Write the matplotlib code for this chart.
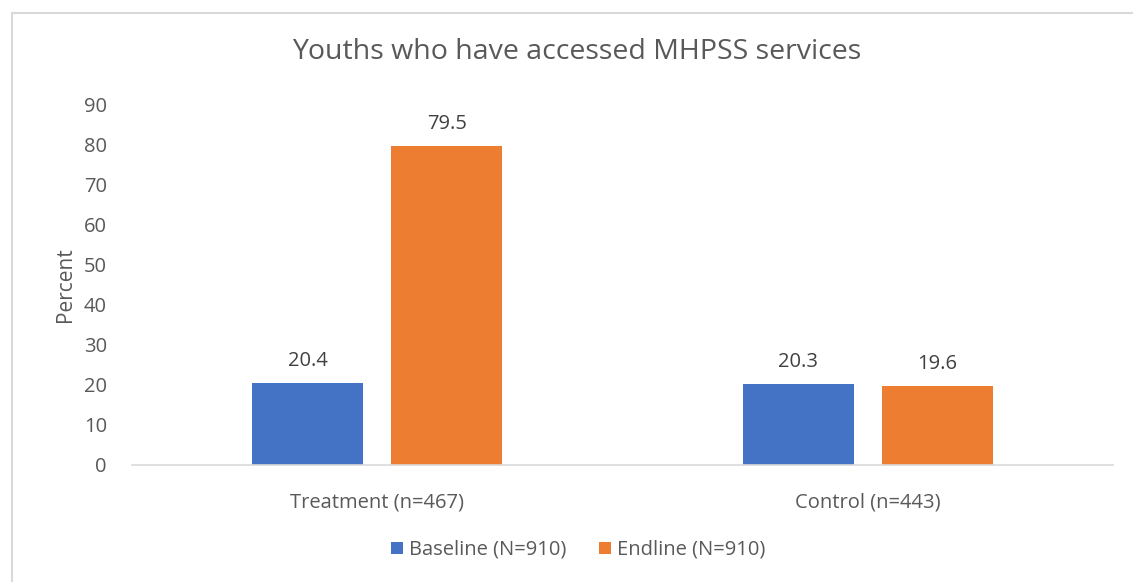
import numpy as np
import matplotlib.pyplot as plt
from matplotlib.patches import Rectangle

categories = ["Treatment (n=467)", "Control (n=443)"]
baseline = [20.4, 20.3]
endline = [79.5, 19.6]
series_names = ["Baseline (N=910)", "Endline (N=910)"]
y_ticks = [0, 10, 20, 30, 40, 50, 60, 70, 80, 90]

blue = "#4472C4"
orange = "#ED7D31"
gray = "#595959"

plt.rcParams['font.family'] = ['Open Sans', 'DejaVu Sans']

fig = plt.figure(figsize=(11.33, 5.82), dpi=100)
fig.patch.set_facecolor("white")

# chart frame
fig.patches.append(Rectangle((12 / 1133, -0.05), 1.1, 1 - 13 / 582 + 0.05,
                             transform=fig.transFigure, fill=False,
                             edgecolor="#d9d9d9", linewidth=1.5))

ax = fig.add_axes([132 / 1133, 1 - 465 / 582, (1113 - 132) / 1133, (465 - 104) / 582])

x = np.arange(len(categories))
off = 0.1417
w = 0.226
b1 = ax.bar(x - off, baseline, w, color=blue, label=series_names[0])
b2 = ax.bar(x + off, endline, w, color=orange, label=series_names[1])

for bars, vals in ((b1, baseline), (b2, endline)):
    for r, v in zip(bars, vals):
        ax.text(r.get_x() + r.get_width() / 2, v + 3.0, f"{v:.1f}",
                ha="center", va="bottom", fontsize=14.5, color="#404040")

ax.set_xlim(-0.5, 1.5)
ax.set_ylim(0, 90)
ax.set_yticks(y_ticks)
ax.set_xticks(x)
ax.set_xticklabels(categories)
ax.tick_params(axis="both", length=0, labelsize=14.5, labelcolor=gray)
ax.tick_params(axis="x", pad=20)
ax.tick_params(axis="y", pad=18)

for s in ("top", "right", "left"):
    ax.spines[s].set_visible(False)
ax.spines["bottom"].set_color("#d9d9d9")
ax.spines["bottom"].set_linewidth(1.2)

ax.set_ylabel("Percent", fontsize=15, color=gray, labelpad=6)
fig.text(577 / 1133, 1 - 52 / 582, "Youths who have accessed MHPSS services",
         ha="center", va="center", fontsize=20.5, color=gray)

fig.legend(handles=[b1, b2], labels=series_names, loc="center",
           bbox_to_anchor=(578 / 1133, 1 - 550 / 582), ncol=2, frameon=False,
           fontsize=14.5, labelcolor=gray, handlelength=0.6, handleheight=0.6,
           handletextpad=0.3, columnspacing=1.6)

fig.savefig("out.png", dpi=100)
